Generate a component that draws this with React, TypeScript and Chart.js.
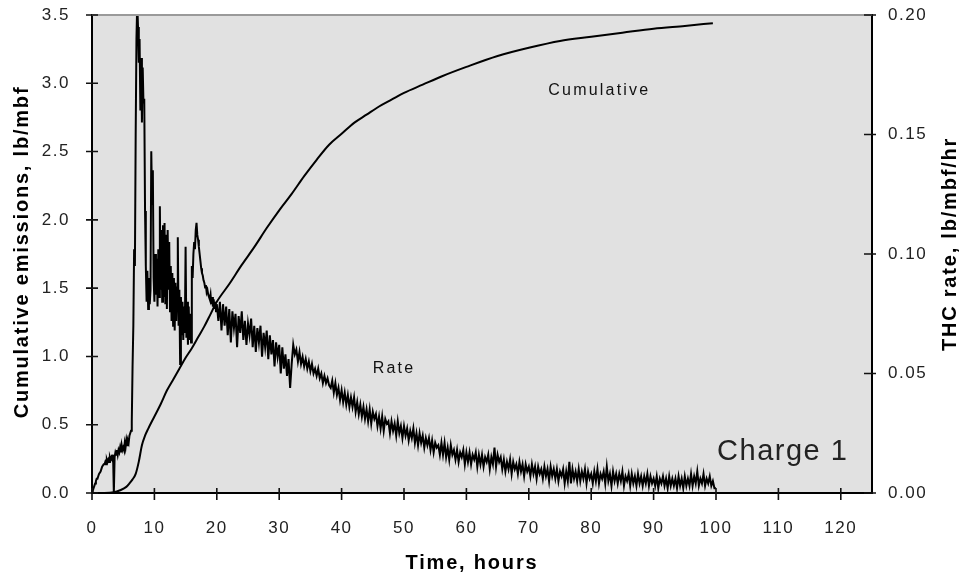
import React, { useEffect, useRef } from "react";
import { Chart, registerables } from "chart.js";

Chart.register(...registerables);

// ---- axis ranges / ticks ----
const xMin = 0;
const xMax = 125;
const xStep = 10;
const leftMax = 3.5;
const leftStep = 0.5;
const rightMax = 0.2;
const rightStep = 0.05;

// ---- texts ----
const xTitle = "Time, hours";
const leftTitle = "Cumulative emissions, lb/mbf";
const rightTitle = "THC rate, lb/mbf/hr";
const cumLabel = "Cumulative";
const rateLabel = "Rate";
const chargeLabel = "Charge 1";

// ---- Cumulative emissions (left axis, lb/mbf) ----
const cumHours = [0, 2, 3.5, 4.5, 5.5, 6, 6.5, 7, 7.5, 8, 8.5, 9, 10, 11, 12, 13, 14, 15, 16, 17, 18, 19, 20, 22, 24, 26, 28, 30, 32, 34, 36, 38, 40, 42, 44, 46, 48, 50, 53, 56, 60, 65, 70, 75, 80, 85, 90, 95, 99.5];
const cumValues = [0, 0, 0.005, 0.02, 0.045, 0.07, 0.1, 0.14, 0.23, 0.35, 0.42, 0.47, 0.56, 0.65, 0.75, 0.83, 0.91, 0.99, 1.06, 1.14, 1.22, 1.31, 1.40, 1.53, 1.67, 1.80, 1.94, 2.07, 2.19, 2.32, 2.44, 2.55, 2.63, 2.71, 2.77, 2.83, 2.88, 2.93, 2.99, 3.05, 3.12, 3.20, 3.26, 3.31, 3.34, 3.37, 3.40, 3.42, 3.44];

// ---- THC rate (right axis, lb/mbf/hr) ----
// logged every 0.125 h from 0 to 20 h
const rateEarlyStart = 0;
const rateEarlyStep = 0.125;
const rateEarly = [
  0, 0.001, 0.002, 0.003, 0.004, 0.005, 0.006, 0.006, 0.007, 0.008, 0.008,
  0.009, 0.010, 0.011, 0.011, 0.012, 0.012, 0.013, 0.012, 0.014, 0.013,
  0.014, 0.013, 0.015, 0.014, 0.015, 0.014, 0.016,
  0.000,
  0.015, 0.017, 0.016, 0.018, 0.016, 0.018, 0.017, 0.019, 0.017, 0.020, 0.018,
  0.019, 0.018, 0.021, 0.019, 0.022, 0.020, 0.022, 0.021, 0.024, 0.025, 0.026,
  0.030, 0.053, 0.070, 0.102, 0.095, 0.150, 0.190, 0.205,
  0.195, 0.180, 0.190, 0.160, 0.182, 0.155, 0.178, 0.163, 0.165, 0.118,
  0.095, 0.080, 0.093, 0.077, 0.090, 0.079, 0.085, 0.143, 0.121, 0.135, 0.090,
  0.080, 0.100, 0.083, 0.098, 0.078, 0.102, 0.082, 0.120, 0.085, 0.110, 0.080,
  0.112, 0.082, 0.113, 0.079, 0.108, 0.077, 0.110, 0.085, 0.105, 0.076,
  0.095, 0.072, 0.092, 0.070, 0.090, 0.068, 0.088, 0.072, 0.086, 0.107,
  0.070, 0.085, 0.054, 0.082, 0.066, 0.080, 0.064, 0.078, 0.067, 0.103,
  0.065, 0.080, 0.062, 0.078, 0.064, 0.075, 0.063, 0.095, 0.090, 0.100,
  0.105, 0.102, 0.110, 0.113, 0.108, 0.106, 0.103, 0.100, 0.097, 0.094,
  0.092, 0.091, 0.089, 0.088, 0.086, 0.087, 0.084, 0.085, 0.083, 0.082,
  0.081, 0.083, 0.079, 0.082, 0.078, 0.081, 0.077, 0.080, 0.076, 0.079,
];
// logged every 0.25 h from 20.25 to 100 h
const rateLateStart = 20.25;
const rateLateStep = 0.25;
const rateLate = [
  0.072, 0.080, 0.068, 0.079, 0.070, 0.078, 0.066, 0.077,
  0.063, 0.076, 0.069, 0.075, 0.061, 0.074, 0.067, 0.076,
  0.064, 0.072, 0.062, 0.071, 0.066, 0.073, 0.061, 0.070,
  0.059, 0.069, 0.063, 0.070, 0.057, 0.067, 0.061, 0.068,
  0.056, 0.066, 0.058, 0.064, 0.053, 0.063, 0.057, 0.062,
  0.050, 0.061, 0.052, 0.058, 0.049, 0.056, 0.044, 0.054,
  0.062, 0.058, 0.060, 0.055, 0.059, 0.054, 0.057, 0.053,
  0.056, 0.052, 0.055, 0.051, 0.054, 0.050, 0.052, 0.049,
  0.052, 0.048, 0.050, 0.046, 0.049, 0.046, 0.048, 0.045,
  0.044, 0.047, 0.042, 0.046, 0.041, 0.044, 0.039, 0.043,
  0.038, 0.042, 0.037, 0.041, 0.036, 0.040, 0.036, 0.040,
  0.034, 0.038, 0.033, 0.037, 0.032, 0.036, 0.031, 0.035,
  0.030, 0.035, 0.029, 0.034, 0.031, 0.033, 0.028, 0.032,
  0.027, 0.032, 0.026, 0.031, 0.029, 0.030, 0.025, 0.030,
  0.026, 0.029, 0.024, 0.030, 0.025, 0.028, 0.023, 0.028,
  0.024, 0.027, 0.022, 0.026, 0.023, 0.027, 0.021, 0.025,
  0.020, 0.025, 0.021, 0.024, 0.019, 0.023, 0.020, 0.023,
  0.018, 0.022, 0.017, 0.021, 0.019, 0.020, 0.016, 0.021,
  0.016, 0.021, 0.015, 0.019, 0.014, 0.020, 0.016, 0.018,
  0.014, 0.018, 0.013, 0.017, 0.015, 0.018, 0.012, 0.017,
  0.013, 0.017, 0.012, 0.016, 0.014, 0.017, 0.011, 0.016,
  0.012, 0.016, 0.011, 0.015, 0.013, 0.016, 0.010, 0.015,
  0.012, 0.019, 0.011, 0.016, 0.013, 0.015, 0.010, 0.014,
  0.009, 0.013, 0.010, 0.014, 0.008, 0.013, 0.010, 0.012,
  0.008, 0.013, 0.009, 0.012, 0.007, 0.012, 0.009, 0.011,
  0.007, 0.012, 0.008, 0.011, 0.006, 0.011, 0.008, 0.010,
  0.006, 0.011, 0.007, 0.010, 0.005, 0.011, 0.007, 0.010,
  0.006, 0.010, 0.005, 0.009, 0.007, 0.010, 0.004, 0.009,
  0.005, 0.013, 0.004, 0.010, 0.006, 0.009, 0.005, 0.010,
  0.005, 0.009, 0.006, 0.010, 0.004, 0.009, 0.006, 0.008,
  0.004, 0.009, 0.005, 0.010, 0.004, 0.008, 0.006, 0.009,
  0.004, 0.011, 0.005, 0.008, 0.003, 0.009, 0.005, 0.008,
  0.004, 0.008, 0.005, 0.009, 0.003, 0.007, 0.005, 0.008,
  0.003, 0.008, 0.004, 0.007, 0.003, 0.008, 0.004, 0.007,
  0.003, 0.007, 0.004, 0.008, 0.003, 0.007, 0.004, 0.006,
  0.003, 0.007, 0.002, 0.006, 0.004, 0.007, 0.003, 0.006,
  0.002, 0.007, 0.003, 0.006, 0.003, 0.006, 0.002, 0.007,
  0.003, 0.006, 0.002, 0.007, 0.003, 0.006, 0.003, 0.008,
  0.003, 0.007, 0.004, 0.009, 0.003, 0.006, 0.004, 0.008,
  0.003, 0.006, 0.004, 0.007, 0.003, 0.005, 0.002, 0.002,
];

// ---- annotation anchors in data units (left axis) ----
const cumLabelAt = { x: 81.3, y: 2.95 };
const rateLabelAt = { x: 48.4, y: 0.91 };
const chargeLabelAt = { x: 110.7, y: 0.3 };

const FONT = "'Liberation Sans', Arial, sans-serif";

const decorPlugin = {
  id: "decor",
  beforeDraw(chart: any) {
    const { ctx, chartArea: a } = chart;
    ctx.save();
    ctx.fillStyle = "#e1e1e1";
    ctx.fillRect(a.left, a.top, a.right - a.left, a.bottom - a.top);
    ctx.restore();
    ctx.letterSpacing = "1.5px";
  },
  afterDraw(chart: any) {
    const { ctx, chartArea: a, scales } = chart;
    const x = scales.x;
    const y = scales.y;
    const y1 = scales.y1;
    ctx.save();
    // top border
    ctx.strokeStyle = "#9a9a9a";
    ctx.lineWidth = 2;
    ctx.beginPath();
    ctx.moveTo(a.left, a.top);
    ctx.lineTo(a.right, a.top);
    ctx.stroke();
    // tick marks crossing the axes
    ctx.strokeStyle = "#111";
    ctx.lineWidth = 1.6;
    ctx.beginPath();
    for (const t of y.ticks) {
      const p = y.getPixelForValue(t.value);
      ctx.moveTo(a.left - 6, p);
      ctx.lineTo(a.left + 6, p);
    }
    for (const t of y1.ticks) {
      const p = y1.getPixelForValue(t.value);
      ctx.moveTo(a.right - 8, p);
      ctx.lineTo(a.right + 4, p);
    }
    for (const t of x.ticks) {
      const p = x.getPixelForValue(t.value);
      ctx.moveTo(p, a.bottom - 5);
      ctx.lineTo(p, a.bottom + 7);
    }
    ctx.stroke();

    // axis titles
    ctx.fillStyle = "#000";
    ctx.textAlign = "center";
    ctx.textBaseline = "middle";
    ctx.font = `bold 20px ${FONT}`;
    ctx.letterSpacing = "1.8px";
    ctx.fillText(xTitle, 472, 563);
    ctx.save();
    ctx.translate(22, 252);
    ctx.rotate(-Math.PI / 2);
    ctx.fillText(leftTitle, 0, 0);
    ctx.restore();
    ctx.save();
    ctx.translate(950, 244);
    ctx.rotate(-Math.PI / 2);
    ctx.fillText(rightTitle, 0, 0);
    ctx.restore();

    // annotations
    ctx.fillStyle = "#111";
    ctx.font = `16px ${FONT}`;
    ctx.letterSpacing = "2.2px";
    ctx.fillText(cumLabel, x.getPixelForValue(cumLabelAt.x), y.getPixelForValue(cumLabelAt.y));
    ctx.fillText(rateLabel, x.getPixelForValue(rateLabelAt.x), y.getPixelForValue(rateLabelAt.y));
    ctx.font = `29px ${FONT}`;
    ctx.letterSpacing = "1.5px";
    ctx.fillStyle = "#222";
    ctx.fillText(chargeLabel, x.getPixelForValue(chargeLabelAt.x), y.getPixelForValue(chargeLabelAt.y));
    ctx.restore();
  },
};

export default function App() {
  const canvasRef = useRef<HTMLCanvasElement | null>(null);

  useEffect(() => {
    const canvas = canvasRef.current;
    if (!canvas) return;

    const cumData = cumHours.map((h, i) => ({ x: h, y: cumValues[i] }));
    const rateData = [
      ...rateEarly.map((v, i) => ({ x: rateEarlyStart + i * rateEarlyStep, y: v })),
      ...rateLate.map((v, i) => ({ x: rateLateStart + i * rateLateStep, y: v })),
    ];

    const tickFont = { family: FONT, size: 17 };

    const chart = new Chart(canvas, {
      type: "line",
      data: {
        datasets: [
          {
            label: "Cumulative",
            data: cumData,
            yAxisID: "y",
            borderColor: "#000",
            borderWidth: 2,
            pointRadius: 0,
            cubicInterpolationMode: "monotone",
            fill: false,
          },
          {
            label: "Rate",
            data: rateData,
            yAxisID: "y1",
            borderColor: "#000",
            borderWidth: 2,
            pointRadius: 0,
            tension: 0,
            fill: false,
          },
        ],
      },
      options: {
        animation: false,
        responsive: true,
        maintainAspectRatio: false,
        layout: { padding: { top: 15, left: 0, right: 0, bottom: 0 } },
        plugins: {
          legend: { display: false },
          tooltip: { enabled: false },
          title: { display: false },
        },
        scales: {
          x: {
            type: "linear",
            min: xMin,
            max: xMax,
            grid: { display: false },
            border: { display: true, color: "#000", width: 2 },
            ticks: {
              stepSize: xStep,
              includeBounds: false,
              maxRotation: 0,
              autoSkip: false,
              padding: 17,
              color: "#222",
              font: tickFont,
              callback: (v: any) => String(v),
            },
            afterFit: (s: any) => {
              s.height = 84;
              s.paddingLeft = 0;
              s.paddingRight = 0;
            },
          },
          y: {
            type: "linear",
            position: "left",
            min: 0,
            max: leftMax,
            grid: { display: false },
            border: { display: true, color: "#000", width: 2 },
            ticks: {
              stepSize: leftStep,
              padding: 14,
              color: "#222",
              font: tickFont,
              callback: (v: any) => Number(v).toFixed(1),
            },
            afterFit: (s: any) => {
              s.width = 92;
              s.paddingTop = 0;
              s.paddingBottom = 0;
            },
          },
          y1: {
            type: "linear",
            position: "right",
            min: 0,
            max: rightMax,
            grid: { display: false },
            border: { display: true, color: "#000", width: 2 },
            ticks: {
              stepSize: rightStep,
              padding: 8,
              color: "#222",
              font: tickFont,
              callback: (v: any) => Number(v).toFixed(2),
            },
            afterFit: (s: any) => {
              s.width = 92;
              s.paddingTop = 0;
              s.paddingBottom = 0;
            },
          },
        },
      },
      plugins: [decorPlugin],
    } as any);

    return () => chart.destroy();
  }, []);

  return (
    <div style={{ position: "absolute", left: 0, top: 0, width: 964, height: 577, background: "#fff" }}>
      <canvas ref={canvasRef} />
    </div>
  );
}
